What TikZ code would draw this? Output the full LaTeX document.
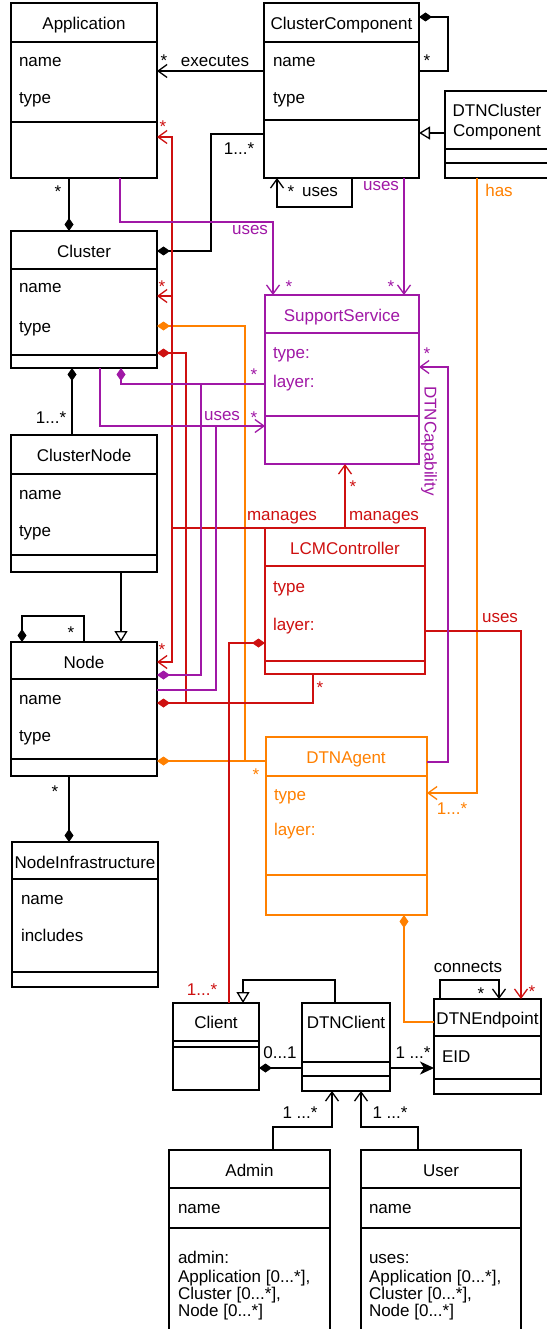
\documentclass[tikz,border=0pt]{standalone}
\usepackage{fontspec}
\setmainfont{Liberation Sans}
\usetikzlibrary{arrows.meta,fit}
\definecolor{pur}{RGB}{160,24,166}
\definecolor{rd}{RGB}{206,16,16}
\definecolor{org}{RGB}{255,128,0}
\newcommand{\ff}{\fontsize{17}{20}\selectfont}
\newcommand{\umlclass}[6]{%
  \node[draw=#6, fit={(#2) (#3)}, inner sep=0pt, outer sep=0pt] (#1) {};
  \draw[#6] (#1.west |- 0,#4) -- (#1.east |- 0,#4) (#1.west |- 0,#5) -- (#1.east |- 0,#5);
}
\newcommand{\umlhdr}[4]{\node[lbl,text=#3] (#1) at (#2) {#4};}
\newcommand{\umlattr}[4]{\node[lbl,anchor=base west,text=#3] (#1) at (#2) {#4};}
\begin{document}
\begin{tikzpicture}[x=1pt,y=-1pt,line width=1.3pt,
  lbl/.style={inner sep=0pt, outer sep=0pt, font=\ff, anchor=base},
  oarr/.style={-{Straight Barb[length=9pt,width=13pt]}},
  dstart/.style={{Diamond[length=13pt,width=9pt]}-},
  dend/.style={-{Diamond[length=13pt,width=9pt]}},
  gen/.style={-{Triangle[open,length=11pt,width=13pt,fill=white]}},
  blk/.style={-{Stealth[length=14pt,width=13pt,inset=4pt]}}]
\useasboundingbox (0,0) rectangle (546,1329);
\fill[white] (0,0) rectangle (546,1329);

% classes
\umlclass{app}{11,3}{157,178}{42}{122}{black}
\umlclass{cc}{264,3}{419,178}{42}{120}{black}
\umlclass{dcc}{445,91}{549,178}{149}{163}{black}
\umlclass{cl}{11,231}{157,368}{269}{355}{black}
\umlclass{cn}{11,435}{157,572}{474}{555}{black}
\umlclass{nd}{11,642}{157,776}{679}{759}{black}
\umlclass{ni}{12,842}{158,987}{879}{972}{black}
\umlclass{ss}{265,295}{419,464}{333}{416}{pur}
\umlclass{lcm}{265,528}{425,674}{566}{661}{rd}
\umlclass{ag}{266,737}{427,915}{776}{875}{org}
\umlclass{clt}{173,1003}{259,1090}{1041}{1047}{black}
\umlclass{dcl}{302,1003}{390,1091}{1062}{1076}{black}
\umlclass{ep}{434,999}{541,1094}{1036}{1079}{black}
\umlclass{adm}{169,1150}{330,1340}{1188}{1228}{black}
\umlclass{usr}{361,1150}{521,1340}{1188}{1228}{black}

% class texts
\umlhdr{tapp}{84,30}{black}{Application}
\umlattr{tapp1}{19,67}{black}{name}
\umlattr{tapp2}{19,104}{black}{type}
\umlhdr{tcc}{341.5,30}{black}{ClusterComponent}
\umlattr{tcc1}{273,67}{black}{name}
\umlattr{tcc2}{273,104}{black}{type}
\umlhdr{tdcc1}{497,117}{black}{DTNCluster}
\umlhdr{tdcc2}{497,137}{black}{Component}
\umlhdr{tcl}{84,258}{black}{Cluster}
\umlattr{tcl1}{19,293}{black}{name}
\umlattr{tcl2}{19,332}{black}{type}
\umlhdr{tcn}{84,461}{black}{ClusterNode}
\umlattr{tcn1}{19,499}{black}{name}
\umlattr{tcn2}{19,536}{black}{type}
\umlhdr{tnd}{84,668}{black}{Node}
\umlattr{tnd1}{19,704}{black}{name}
\umlattr{tnd2}{19,741}{black}{type}
\umlhdr{tni}{85,868}{black}{NodeInfrastructure}
\umlattr{tni1}{21,904}{black}{name}
\umlattr{tni2}{21,941}{black}{includes}
\umlhdr{tss}{342,321}{pur}{SupportService}
\umlattr{tss1}{273,358}{pur}{type:}
\umlattr{tss2}{273,387}{pur}{layer:}
\umlhdr{tlcm}{345,554}{rd}{LCMController}
\umlattr{tlcm1}{273,592}{rd}{type}
\umlattr{tlcm2}{273,630}{rd}{layer:}
\umlhdr{tag}{346,763}{org}{DTNAgent}
\umlattr{tag1}{274,800}{org}{type}
\umlattr{tag2}{274,835}{org}{layer:}
\umlhdr{tclt}{216,1028}{black}{Client}
\umlhdr{tdcl}{346,1028}{black}{DTNClient}
\umlhdr{tep}{487.5,1024}{black}{DTNEndpoint}
\umlattr{tep1}{442,1062}{black}{EID}
\umlhdr{tadm}{249.5,1176}{black}{Admin}
\umlattr{tadm1}{178,1213}{black}{name}
\umlattr{tadm2}{178,1263}{black}{admin:}
\umlattr{tadm3}{178,1282}{black}{Application [0...*],}
\umlattr{tadm4}{178,1299}{black}{Cluster [0...*],}
\umlattr{tadm5}{178,1316}{black}{Node [0...*]}
\umlhdr{tusr}{441,1176}{black}{User}
\umlattr{tusr1}{369,1213}{black}{name}
\umlattr{tusr2}{369,1263}{black}{uses:}
\umlattr{tusr3}{369,1282}{black}{Application [0...*],}
\umlattr{tusr4}{369,1299}{black}{Cluster [0...*],}
\umlattr{tusr5}{369,1316}{black}{Node [0...*]}

% black connectors
\draw[oarr] (cc.west |- 0,71) -- (app.east |- 0,71);
\draw[dstart] (cc.east |- 0,17) -- (448,17) -- (448,71) -- (cc.east |- 0,71);
\draw[gen] (dcc.west |- 0,133) -- (cc.east |- 0,133);
\draw[oarr] (cc.south -| 352,0) -- (352,207) -- (277,207) -- (cc.south -| 277,0);
\draw[dstart] (cl.east |- 0,251) -- (211,251) -- (211,134) -- (cc.west |- 0,134);
\draw[dend] (app.south -| 69,0) -- (cl.north -| 69,0);
\draw[dstart] (cl.south -| 72,0) -- (cn.north -| 72,0);
\draw[gen] (cn.south -| 121,0) -- (nd.north -| 121,0);
\draw[dstart] (nd.north -| 22,0) -- (22,616) -- (84,616) -- (nd.north -| 84,0);
\draw[dend] (nd.south -| 69,0) -- (ni.north -| 69,0);
\draw[gen] (dcl.north -| 335,0) -- (335,980) -- (243,980) -- (clt.north -| 243,0);
\draw[dstart] (clt.east |- 0,1068) -- (dcl.west |- 0,1068);
\draw[blk] (dcl.east |- 0,1068) -- (ep.west |- 0,1068);
\draw[oarr] (ep.north -| 440,0) -- (440,980) -- (499,980) -- (ep.north -| 499,0);
\draw[oarr] (adm.north -| 273,0) -- (273,1127) -- (332,1127) -- (dcl.south -| 332,0);
\draw[oarr] (usr.north -| 418,0) -- (418,1127) -- (361,1127) -- (dcl.south -| 361,0);

% orange connectors
\draw[org, dstart] (cl.east |- 0,326) -- (245,326) -- (245,761);
\draw[org, dstart] (nd.east |- 0,761) -- (ag.west |- 0,761);
\draw[org, oarr] (dcc.south -| 477,0) -- (477,793) -- (ag.east |- 0,793);
\draw[org, dstart] (ag.south -| 404,0) -- (404,1022) -- (ep.west |- 0,1022);

% red connectors
\draw[rd, oarr] (lcm.north west) -- (172,528) -- (172,137) -- (app.east |- 0,137);
\draw[rd, oarr] (172,296) -- (cl.east |- 0,296);
\draw[rd, oarr] (172,528) -- (172,662) -- (nd.east |- 0,662);
\draw[rd, oarr] (lcm.north -| 345,0) -- (ss.south -| 345,0);
\draw[rd, dstart] (cl.east |- 0,353) -- (186,353) -- (186,703);
\draw[rd, dstart] (nd.east |- 0,703) -- (313,703) -- (lcm.south -| 313,0);
\draw[rd, dstart] (lcm.west |- 0,643) -- (229,643) -- (clt.north -| 229,0);
\draw[rd, oarr] (lcm.east |- 0,631) -- (521,631) -- (ep.north -| 521,0);

% purple connectors
\draw[pur, oarr] (app.south -| 120,0) -- (120,222) -- (273,222) -- (ss.north -| 273,0);
\draw[pur, oarr] (cc.south -| 404,0) -- (ss.north -| 404,0);
\draw[pur, oarr] (cl.south -| 100,0) -- (100,426) -- (ss.west |- 0,426);
\draw[pur, dstart] (cl.south -| 121,0) -- (121,384) -- (ss.west |- 0,384);
\draw[pur, dstart] (nd.east |- 0,675) -- (201,675) -- (201,384);
\draw[pur] (nd.east |- 0,690) -- (216,690) -- (216,426);
\draw[pur, oarr] (ag.east |- 0,762) -- (448,762) -- (448,367) -- (ss.east |- 0,367);

% connector labels
\node[lbl] (l1) at (164,67) {*};
\node[lbl] (l2) at (215,67) {executes};
\node[lbl] (l3) at (427,67) {*};
\node[lbl] (l4) at (239,155) {1...*};
\node[lbl] (l5) at (291,198) {*};
\node[lbl] (l6) at (320,197) {uses};
\node[lbl,text=pur] (l7) at (381,191) {uses};
\node[lbl,text=org] (l8) at (499,197) {has};
\node[lbl] (l9) at (58,198) {*};
\node[lbl,text=rd] (l10) at (163,133) {*};
\node[lbl,text=pur] (l11) at (250,235) {uses};
\node[lbl,text=pur] (l12) at (289,293) {*};
\node[lbl,text=pur] (l13) at (391,293) {*};
\node[lbl,text=rd] (l14) at (162,293) {*};
\node[lbl] (l15) at (51,423) {1...*};
\node[lbl,text=pur] (l16) at (254,380) {*};
\node[lbl,text=pur] (l17) at (222,420) {uses};
\node[lbl,text=pur] (l18) at (254,423) {*};
\node[lbl,text=pur] (l19) at (427,359) {*};
\node[lbl,text=pur,rotate=-90,anchor=center] (l20) at (429,441) {DTNCapability};
\node[lbl,text=rd] (l21) at (353,492) {*};
\node[lbl,text=rd] (l22) at (282,520) {manages};
\node[lbl,text=rd] (l23) at (384,520) {manages};
\node[lbl,text=rd] (l24) at (162,655) {*};
\node[lbl,text=rd] (l25) at (500,622) {uses};
\node[lbl,text=rd] (l26) at (320,693) {*};
\node[lbl,text=org] (l27) at (256,780) {*};
\node[lbl,text=org] (l28) at (452,814) {1...*};
\node[lbl] (l29) at (55,797) {*};
\node[lbl] (l30) at (71,638) {*};
\node[lbl,text=rd] (l31) at (202,995) {1...*};
\node[lbl] (l32) at (468,972) {connects};
\node[lbl] (l33) at (481,999) {*};
\node[lbl,text=rd] (l34) at (532,997) {*};
\node[lbl] (l35) at (280,1058) {0...1};
\node[lbl] (l36) at (413,1058) {1 ...*};
\node[lbl] (l37) at (300,1118) {1 ...*};
\node[lbl] (l38) at (390,1118) {1 ...*};
\end{tikzpicture}
\end{document}
